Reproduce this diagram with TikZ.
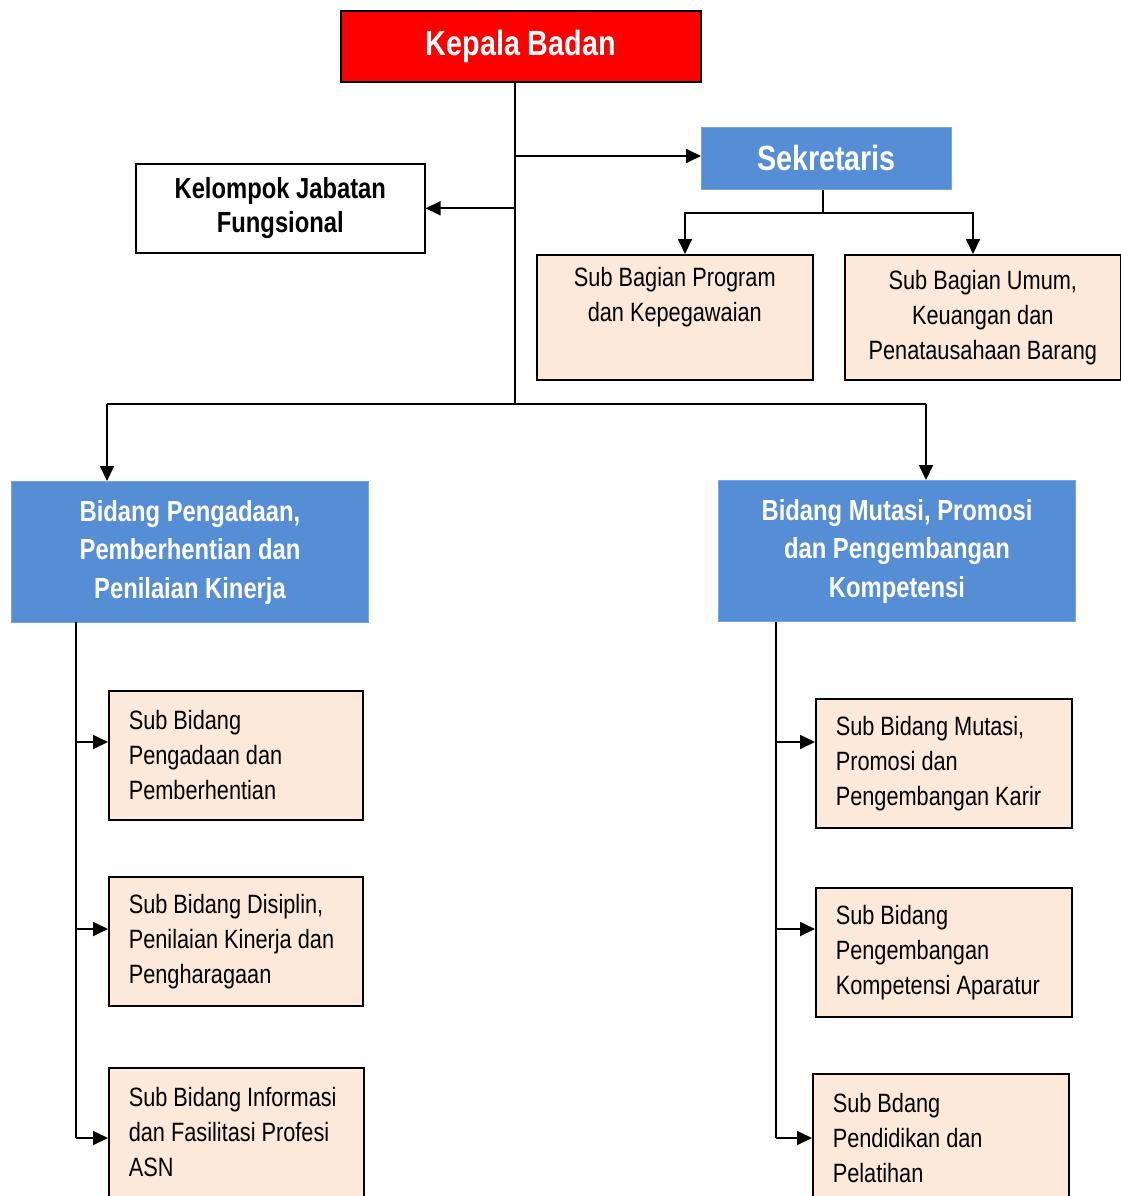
\documentclass[tikz,border=0pt]{standalone}
\usepackage{fontspec}
\setmainfont{Liberation Sans}[FakeStretch=0.82]
\usetikzlibrary{arrows.meta}
\definecolor{kbred}{RGB}{255,0,0}
\definecolor{bidblue}{RGB}{85,142,213}
\definecolor{peach}{RGB}{253,233,217}
\begin{document}
\begin{tikzpicture}[x=1pt,y=-1pt,
  box/.style={draw=black,line width=1.6pt,inner sep=0pt,anchor=north west},
  redbox/.style={box,fill=kbred,text=white,font=\bfseries\fontsize{35}{40}\selectfont},
  bluebox/.style={anchor=north west,inner sep=0pt,fill=bidblue,draw=bidblue!80!white,line width=1pt,text=white,align=center,font=\bfseries\fontsize{29}{38.5}\selectfont},
  whitebox/.style={box,fill=white,align=center,font=\bfseries\fontsize{29}{34}\selectfont},
  subc/.style={box,fill=peach,align=center,font=\fontsize{26.5}{35}\selectfont},
  subl/.style={box,fill=peach,align=flush left,inner xsep=20pt,font=\fontsize{26.5}{35}\selectfont},
  conn/.style={line width=1.8pt,draw=black},
  arr/.style={conn,-{Triangle[length=15pt,width=14pt]}}
]
\useasboundingbox (0,0) rectangle (1121,1196);
\fill[white] (0,0) rectangle (1121,1196);

% boxes
\node[redbox,minimum width=360pt,minimum height=71pt] (kb) at (340,10) {Kepala Badan};
\node[bluebox,minimum width=250pt,minimum height=62pt,font=\bfseries\fontsize{35}{38}\selectfont] (sek) at (701,127) {\raisebox{1.5pt}{Sekretaris}};
\node[whitebox,minimum width=289pt,minimum height=89pt] (kjf) at (135,163) {Kelompok Jabatan\\Fungsional};
\node[subc,minimum width=276pt,minimum height=125pt] (sbp) at (536,254) {Sub Bagian Program\\dan Kepegawaian\\\strut};
\node[subc,minimum width=276pt,minimum height=125pt] (sbu) at (844,254) {Sub Bagian Umum,\\Keuangan dan\\Penatausahaan Barang};
\node[bluebox,minimum width=357pt,minimum height=141pt] (bp) at (11,481) {Bidang Pengadaan,\\Pemberhentian dan\\Penilaian Kinerja};
\node[bluebox,minimum width=357pt,minimum height=141pt] (bm) at (718,480) {Bidang Mutasi, Promosi\\dan Pengembangan\\Kompetensi};

\node[subl,text width=214pt,minimum height=129pt] (l1) at (108,690) {Sub Bidang\\Pengadaan dan\\Pemberhentian};
\node[subl,text width=214pt,minimum height=129pt] (l2) at (108,876) {Sub Bidang Disiplin,\\Penilaian Kinerja dan\\Pengharagaan};
\node[subl,text width=215pt,minimum height=129pt] (l3) at (108,1067) {Sub Bidang Informasi\\dan Fasilitasi Profesi\\ASN};

\node[subl,text width=216pt,minimum height=129pt] (r1) at (815,698) {Sub Bidang Mutasi,\\Promosi dan\\Pengembangan Karir};
\node[subl,text width=216pt,minimum height=129pt] (r2) at (815,887) {Sub Bidang\\Pengembangan\\Kompetensi Aparatur};
\node[subl,text width=216pt,minimum height=129pt] (r3) at (812,1073) {Sub Bdang\\Pendidikan dan\\Pelatihan};

% junction coordinates
\coordinate (ktop) at (515,81);
\coordinate (kmid) at (515,404);
\coordinate (hl) at (107,404);
\coordinate (hr) at (926,404);
\coordinate (sj) at (823,213);
\coordinate (lv) at (76,622);
\coordinate (rv) at (776,622);

% main trunk
\draw[conn] (ktop) -- (kmid);
\draw[arr] (ktop |- 0,156) -- (sek.west |- 0,156);
\draw[arr] (ktop |- kjf.east) -- (kjf.east);
\draw[conn] (hl) -- (hr);
\draw[arr] (hl) -- (hl |- bp.north);
\draw[arr] (hr) -- (hr |- bm.north);

% sekretaris branch
\draw[conn] (sek.south -| sj) -- (sj);
\draw[arr] (sj) -| (685,254);
\draw[arr] (sj) -| (973,254);

% left column
\draw[conn] (lv) -- (76,1138);
\draw[arr] (lv |- 0,742) -- (l1.west |- 0,742);
\draw[arr] (lv |- 0,929) -- (l2.west |- 0,929);
\draw[arr] (lv |- 0,1138) -- (l3.west |- 0,1138);

% right column
\draw[conn] (rv) -- (776,1138);
\draw[arr] (rv |- 0,742) -- (r1.west |- 0,742);
\draw[arr] (rv |- 0,929) -- (r2.west |- 0,929);
\draw[arr] (rv |- 0,1138) -- (r3.west |- 0,1138);
\end{tikzpicture}
\end{document}
